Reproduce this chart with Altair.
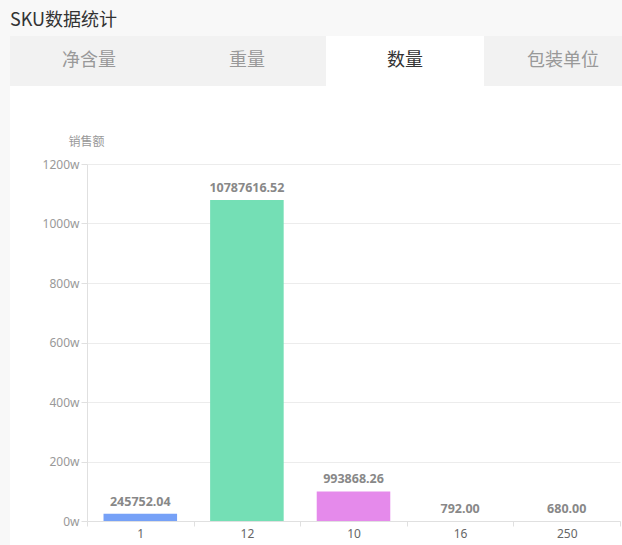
import altair as alt
import pandas as pd

title_text = "SKU数据统计"
tabs = ["净含量", "重量", "数量", "包装单位"]
active_tab = "数量"
categories = ["1", "12", "10", "16", "250"]
sales = [245752.04, 10787616.52, 993868.26, 792.00, 680.00]
bar_colors = ["#76a1f7", "#74dfb5", "#e58aeb", "#f6c56f", "#f08c8c"]
y_ticks = [0, 2000000, 4000000, 6000000, 8000000, 10000000, 12000000]
y_title = "销售额"

CJK = "Noto Sans CJK SC"
LATIN = "Noto Sans"

bars_df = pd.DataFrame({"cat": categories, "sales": sales})
tabs_df = pd.DataFrame({"tab": tabs, "active": [t == active_tab for t in tabs]})
one = pd.DataFrame({"t": [title_text]})

# page decorations (gray header band and left strip)
top_band = alt.Chart(one).mark_rect(color="#f8f8f8").encode(
    x=alt.value(-87), x2=alt.value(535), y=alt.value(-164), y2=alt.value(-128)
)
left_strip = alt.Chart(one).mark_rect(color="#f8f8f8").encode(
    x=alt.value(-87), x2=alt.value(-77), y=alt.value(-128), y2=alt.value(381)
)
title = alt.Chart(one).mark_text(
    align="left", baseline="middle", fontSize=18, color="#333333", font=CJK
).encode(x=alt.value(-77), y=alt.value(-143), text="t:N")

tab_x = alt.X(
    "tab:N",
    sort=tabs,
    scale=alt.Scale(domain=tabs, range=[-77, 555], paddingInner=0, paddingOuter=0),
    axis=None,
)
tab_rects = alt.Chart(tabs_df).mark_rect().encode(
    x=tab_x,
    y=alt.value(-128),
    y2=alt.value(-78),
    color=alt.condition("datum.active", alt.value("#ffffff"), alt.value("#f2f2f2")),
)
tab_text = alt.Chart(tabs_df).mark_text(fontSize=18, font=CJK, baseline="middle").encode(
    x=tab_x,
    y=alt.value(-103),
    text="tab:N",
    color=alt.condition("datum.active", alt.value("#333333"), alt.value("#999999")),
)

x_scale = alt.Scale(domain=categories, paddingInner=0, paddingOuter=0)
x_enc = alt.X(
    "cat:N",
    sort=categories,
    scale=x_scale,
    axis=alt.Axis(
        title=None,
        labelAngle=0,
        tickBand="extent",
        domainColor="#e0e0e0",
        tickColor="#e0e0e0",
        tickSize=5,
        labelPadding=2,
        labelColor="#666666",
        labelFontSize=12,
        labelFont=LATIN,
    ),
)
y_enc = alt.Y(
    "sales:Q",
    scale=alt.Scale(domain=[0, 12000000], nice=False),
    axis=alt.Axis(
        values=y_ticks,
        labelExpr="datum.value / 10000 + 'w'",
        title=y_title,
        titleAngle=0,
        titleX=-1,
        titleY=-23,
        titleAlign="center",
        titleBaseline="middle",
        titleColor="#999999",
        titleFontSize=12,
        titleFontWeight="normal",
        titleFont=CJK,
        gridColor="#ececec",
        domainColor="#e0e0e0",
        tickColor="#e0e0e0",
        tickSize=6,
        labelPadding=2,
        labelColor="#999999",
        labelFontSize=12,
        labelFont=LATIN,
    ),
)

bars = alt.Chart(bars_df).mark_bar(width=alt.RelativeBandSize(0.69)).encode(
    x=x_enc,
    y=y_enc,
    color=alt.Color("cat:N", scale=alt.Scale(domain=categories, range=bar_colors), legend=None),
)
labels = alt.Chart(bars_df).mark_text(
    dy=-8, baseline="alphabetic", fontSize=12.5, fontWeight="bold", color="#888888", font=LATIN
).encode(
    x=alt.X("cat:N", sort=categories, scale=x_scale, axis=None),
    y=y_enc,
    text=alt.Text("sales:Q", format=".2f"),
)

chart = (
    alt.layer(top_band, left_strip, title, tab_rects, tab_text, bars, labels)
    .resolve_scale(x="independent", color="independent")
    .properties(
        width=533,
        height=357,
        autosize=alt.AutoSizeParams(type="none"),
        padding={"left": 87, "top": 164, "right": 2, "bottom": 24},
        background="#ffffff",
    )
    .configure_view(stroke="transparent")
)

chart.save("out.html", embed_options={"renderer": "svg", "actions": False})
